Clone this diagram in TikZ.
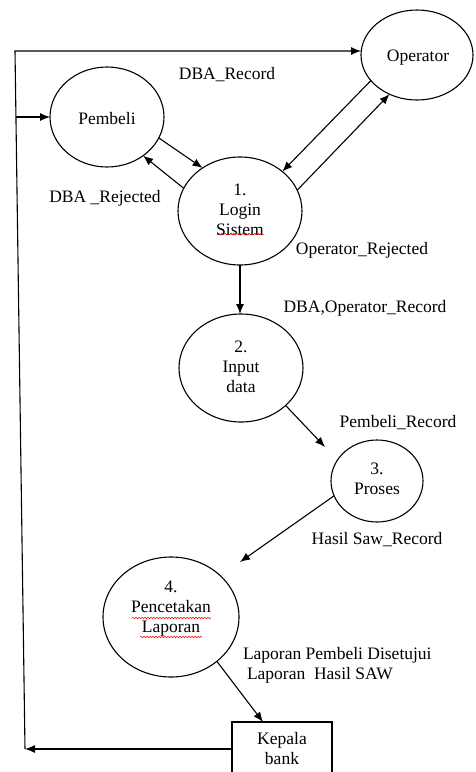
\documentclass[tikz,border=0pt]{standalone}
\usepackage{fontspec}
\setmainfont{Liberation Serif}
\usetikzlibrary{shapes.geometric,arrows.meta,calc,decorations.pathmorphing}
\begin{document}
\begin{tikzpicture}[x=1pt,y=-1pt,
  every node/.style={font=\fontsize{17.5}{20}\selectfont, inner sep=0pt, outer sep=0pt},
  proc/.style={draw, ellipse, line width=1.1pt},
  boxnode/.style={draw, rectangle, line width=1.1pt, align=center},
  lbl/.style={align=center},
  arr/.style={line width=1.1pt, -{Latex[length=10pt,width=8pt]}},
  squig/.style={red, line width=0.5pt, decorate, decoration={snake, amplitude=0.8pt, segment length=3pt}}]
\useasboundingbox (0,0) rectangle (475,772);
\clip (0,0) rectangle (475,772);

% processes and entities
\node[proc, minimum width=114, minimum height=100] (pemb) at (107,117) {};
\node[lbl] (pembt) at (107,119) {Pembeli};
\node[proc, minimum width=112, minimum height=90] (oper) at (417,55) {};
\node[lbl] (opert) at (418,58) {Operator};
\node[proc, minimum width=124, minimum height=108] (login) at (240,211) {};
\node[lbl] (logint) at (240,210) {1.\\Login\\Sistem};
\node[proc, minimum width=124, minimum height=108] (input) at (241,368) {};
\node[lbl] (inputt) at (241,367) {2.\\Input\\data};
\node[proc, minimum width=92, minimum height=82] (proses) at (377,481) {};
\node[lbl] (prosest) at (377,479) {3.\\Proses};
\node[proc, minimum width=136, minimum height=120] (pcet) at (171,617) {};
\node[lbl] (pcett) at (171,609) {4.\\Pencetakan\\Laporan};
\node[boxnode, minimum width=100, minimum height=54] (kep) at (282,749) {Kepala\\bank};

% spell-check underlines
\draw[squig] (218,234) -- (264,234);
\draw[squig] (132,618) -- (211,618);
\draw[squig] (140,637) -- (202,637);

% flows
\draw[arr] (pemb.-22.7) -- (login.131.5);
\draw[arr] (login.158) -- (pemb.-47);
\draw[arr] (oper.209.7) -- (login.43.8);
\draw[arr] (login.20) -- (oper.235);
\draw[arr] (login.south) -- (login.south |- input.north);
\coordinate (p3in) at (325,447);
\draw[arr] (input.-40.3) -- (p3in);
\coordinate (p4in) at (240,562);
\draw[arr] (proses.199.6) -- (p4in);
\draw[arr] (pcet.-44.4) -- ($(kep.north)+(-19,0)$);

\coordinate (bl) at (25,749);
\coordinate (tl) at (15,51);
\coordinate (br) at (16,117);
\draw[arr] (kep.west) -- (bl);
\draw[arr] (bl) -- (tl) -- (tl -| oper.west);
\draw[arr] (br) -- (pemb.west);

% labels
\node (l1) at (227,75) {DBA\_Record};
\node (l2) at (105,198) {DBA \_Rejected};
\node (l3) at (362,250) {Operator\_Rejected};
\node (l4) at (365,308) {DBA,Operator\_Record};
\node (l5) at (398,423) {Pembeli\_Record};
\node (l6) at (377,540) {Hasil Saw\_Record};
\node[anchor=west] (l7) at (243,655) {Laporan Pembeli Disetujui};
\node[anchor=west] (l8) at (247,675) {Laporan\ \ Hasil SAW};
\end{tikzpicture}
\end{document}
